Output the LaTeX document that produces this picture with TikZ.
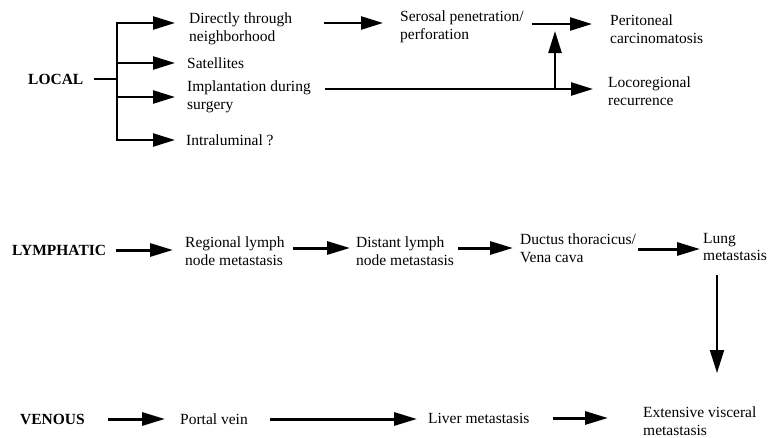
\documentclass[tikz,border=0pt]{standalone}
\usepackage{fontspec}
\setmainfont{Liberation Serif}
\usetikzlibrary{arrows.meta}
\begin{document}
\begin{tikzpicture}[x=1pt,y=-1pt,
  lbl/.style={anchor=west, inner sep=0pt, align=left, font=\fontsize{15.5}{17.5}\selectfont},
  head/.style={lbl, font=\fontsize{15.5}{17.5}\selectfont\bfseries},
  ln/.style={line width=2.4pt},
  arr/.style={ln, -{Triangle[length=22pt,width=13pt]}},
  barr/.style={line width=3pt, -{Triangle[length=23pt,width=13pt]}},
  varr/.style={line width=2pt, -{Triangle[length=23pt,width=14pt]}},
]
\useasboundingbox (0,0) rectangle (769,437);

% ---------- LOCAL ----------
\node[head] (local) at (28,79) {LOCAL};
\node[lbl] (d1) at (189,29) {Directly through\\neighborhood};
\node[lbl] (sat) at (187,63) {Satellites};
\node[lbl] (imp) at (187,97) {Implantation during\\surgery};
\node[lbl] (intra) at (186,140) {Intraluminal ?};
\node[lbl] (ser) at (400,27) {Serosal penetration/\\perforation};
\node[lbl] (per) at (610,29) {Peritoneal\\carcinomatosis};
\node[lbl] (loco) at (608,91) {Locoregional\\recurrence};

\coordinate (j) at (117,79);
\coordinate (j1) at (117,23);
\coordinate (j2) at (117,63);
\coordinate (j3) at (117,97);
\coordinate (j4) at (117,140);
\coordinate (up) at (555,89);
\coordinate (upt) at (555,31);

\draw[ln, shorten <=10pt] (local.east) -- (j);
\draw[ln] ([yshift=1.2pt]j1) -- ([yshift=-1.2pt]j4);
\draw[arr, shorten >=14pt] (j1) -- (j1 -| d1.west);
\draw[arr, shorten >=12pt] (j2) -- (sat.west);
\draw[arr, shorten >=12pt] (j3) -- (imp.west);
\draw[arr, shorten >=11pt] (j4) -- (intra.west);

\draw[arr, shorten <=32pt, shorten >=17pt] ([yshift=6pt]d1.east) -- ([yshift=6pt]d1.east -| ser.west);
\draw[arr, shorten <=8pt, shorten >=18pt] ([yshift=3pt]ser.east) -- ([yshift=3pt]ser.east -| per.west);
\draw[arr, shorten <=14pt, shorten >=15pt] ([yshift=8pt]imp.east) -- ([yshift=8pt]imp.east -| loco.west);
\draw[arr] (up) -- (upt);

% ---------- LYMPHATIC ----------
\node[head] (lym) at (12,250) {LYMPHATIC};
\node[lbl] (reg) at (185,251) {Regional lymph\\node metastasis};
\node[lbl] (dist) at (356,251) {Distant lymph\\node metastasis};
\node[lbl] (duct) at (520,248) {Ductus thoracicus/\\Vena cava};
\node[lbl] (lung) at (703,247) {Lung\\metastasis};

\draw[barr, shorten <=10pt, shorten >=12pt] (lym.east) -- (lym.east -| reg.west);
\draw[barr, shorten <=8pt, shorten >=6pt] ([yshift=3pt]reg.east) -- ([yshift=3pt]reg.east -| dist.west);
\draw[barr, shorten <=4pt, shorten >=7pt] ([yshift=3pt]dist.east) -- ([yshift=3pt]dist.east -| duct.west);
\draw[barr, shorten <=2pt, shorten >=3pt] ([yshift=-1pt]duct.east) -- ([yshift=-1pt]duct.east -| lung.west);

% ---------- VENOUS ----------
\node[head] (ven) at (20,419) {VENOUS};
\node[lbl] (portal) at (180,419) {Portal vein};
\node[lbl] (liver) at (428,418) {Liver metastasis};
\node[lbl] (ext) at (643,421) {Extensive visceral\\metastasis};

\draw[barr, shorten <=23pt, shorten >=15pt] (ven.east) -- (ven.east -| portal.west);
\draw[barr, shorten <=22pt, shorten >=11pt] (portal.east) -- (portal.east -| liver.west);
\draw[barr, shorten <=23pt, shorten >=35pt] (liver.east) -- (liver.east -| ext.west);

\coordinate (vt) at (717,275);
\coordinate (vb) at (717,373);
\draw[varr] (vt) -- (vb);
\end{tikzpicture}
\end{document}
